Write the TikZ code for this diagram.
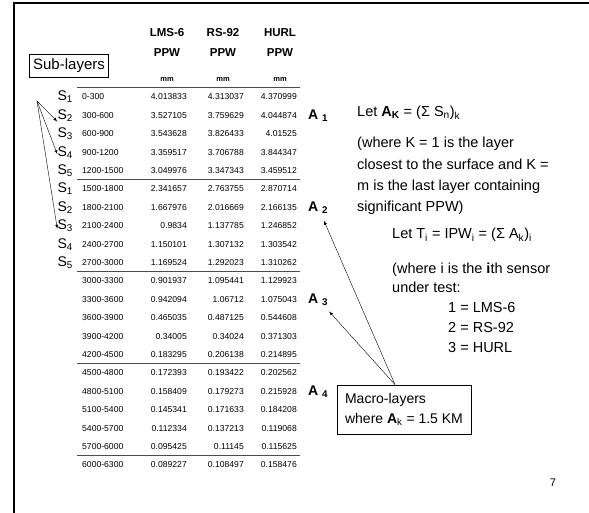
\documentclass[tikz,border=0pt]{standalone}
\usepackage{fontspec}
\setmainfont{Liberation Sans}
\usetikzlibrary{positioning}
\usetikzlibrary{arrows}

\newcommand{\fsz}[2]{\fontsize{#1}{#2}\selectfont}

\begin{document}
\begin{tikzpicture}[x=1pt, y=-1pt, node distance=0pt, >=latex,
cell/.style={inner sep=0pt, font=\fsz{8.6}{10}},
head/.style={inner sep=0pt, font=\bfseries\fsz{11.5}{13}},
unit/.style={inner sep=0pt, font=\bfseries\fsz{7.5}{8}},
sub/.style={inner sep=0pt, anchor=east, font=\fsz{14}{16}},
macro/.style={inner sep=0pt, anchor=west, font=\bfseries\fsz{14}{16}},
txt/.style={inner sep=0pt, anchor=north west, align=left, font=\fsz{14.5}{21.3}},
rule/.style={black!70, line width=1pt},
box/.style={draw, line width=0.8pt, inner xsep=4pt, inner ysep=2pt}]
\useasboundingbox (0,0) rectangle (589,513);

% frame
\draw [line width=2pt] (14,513) -- (14,3.5) -- (589,3.5);

% column heads
\node [head] (lms) at (167,33) {LMS-6};
\node [head] (rs) at (223,33) {RS-92};
\node [head] (hurl) at (280,33) {HURL};
\foreach \c in {lms,rs,hurl}
{
  \node [head] (\c ppw) at ([yshift=-20pt]\c) {PPW};
  \node [unit] (\c mm) at ([yshift=-46pt]\c) {mm};
}
\draw [rule] (77,88) -- (300,88);

%%%%%%%%%%%%%%%%%%%%%%%% table
\foreach \d/\p/\q/\r [count=\i from 0] in {
0-300/4.013833/4.313037/4.370999,
300-600/3.527105/3.759629/4.044874,
600-900/3.543628/3.826433/4.01525,
900-1200/3.359517/3.706788/3.844347,
1200-1500/3.049976/3.347343/3.459512,
1500-1800/2.341657/2.763755/2.870714,
1800-2100/1.667976/2.016669/2.166135,
2100-2400/0.9834/1.137785/1.246852,
2400-2700/1.150101/1.307132/1.303542,
2700-3000/1.169524/1.292023/1.310262,
3000-3300/0.901937/1.095441/1.129923,
3300-3600/0.942094/1.06712/1.075043,
3600-3900/0.465035/0.487125/0.544608,
3900-4200/0.34005/0.34024/0.371303,
4200-4500/0.183295/0.206138/0.214895,
4500-4800/0.172393/0.193422/0.202562,
4800-5100/0.158409/0.179273/0.215928,
5100-5400/0.145341/0.171633/0.184208,
5400-5700/0.112334/0.137213/0.119068,
5700-6000/0.095425/0.11145/0.115625,
6000-6300/0.089227/0.108497/0.158476}
{
  \node [cell, anchor=west] (d\i) at (82,{97+18.4*\i}) {\d};
  \node [cell, anchor=east] (p\i) at (187,{97+18.4*\i}) {\p};
  \node [cell, anchor=east] (q\i) at (244,{97+18.4*\i}) {\q};
  \node [cell, anchor=east] (r\i) at (297,{97+18.4*\i}) {\r};
}

% macro-layer rules
\foreach \k in {4,9,14,19}
  \draw [rule] (77,{97+18.4*(\k+0.5)}) -- (300,{97+18.4*(\k+0.5)});

% sub-layers
\node [box, font=\fsz{15}{17}, minimum height=23pt] (sublayers) at (69,65.5) {Sub-layers};
\foreach \n [count=\i from 0] in {1,2,3,4,5,1,2,3,4,5}
  \node [sub] (s\i) at (73,{97+18.4*\i}) {S\textsubscript{\n}};

\coordinate (fork) at (37,101);
\draw [->, thin] (fork) -- (s1.south west);
\draw [->, thin] (fork) -- ([yshift=-2pt]s3.west);
\draw [->, thin] (fork) -- ([yshift=-3pt]s7.west);

% macro-layers
\foreach \k [count=\i from 0] in {1,2,3,4}
  \node [macro] (a\k) at (308,{115.4+92*\i}) {A \textsubscript{\k}};

\node [box, align=left, font=\fsz{14}{20}, inner xsep=6pt, inner ysep=3pt, minimum height=49pt, minimum width=134pt] (macrobox) at (404,409.5) {Macro-layers\\where \textbf{A}\textsubscript{k} = 1.5 KM};
\coordinate (mtop) at ([xshift=-9pt]macrobox.north);
\draw [->, thin, shorten >=8pt] (mtop) -- (a2);
\draw [->, thin, shorten >=8pt] (mtop) -- (a3);

% text on the right
\node [txt, anchor=west] (leta) at (357,113) {Let \textbf{A\textsubscript{K}} = (Σ S\textsubscript{n})\textsubscript{k}};
\node [txt] (wherek) at (357,137) {(where K = 1 is the layer\\closest to the surface and K =\\m is the last layer containing\\significant PPW)};
\node [txt, anchor=west] (lett) at (392,235) {Let T\textsubscript{i} = IPW\textsubscript{i} = (Σ A\textsubscript{k})\textsubscript{i}};
\node [txt, font=\fsz{14.5}{19.7}] (wherei) at (392,262.5) {(where i is the \textbf{i}th sensor\\under test:\\\hspace{56pt}1 = LMS-6\\\hspace{56pt}2 = RS-92\\\hspace{56pt}3 = HURL};

\node [inner sep=0pt, font=\fsz{11}{13}] (page) at (553,483) {7};
\end{tikzpicture}
\end{document}
